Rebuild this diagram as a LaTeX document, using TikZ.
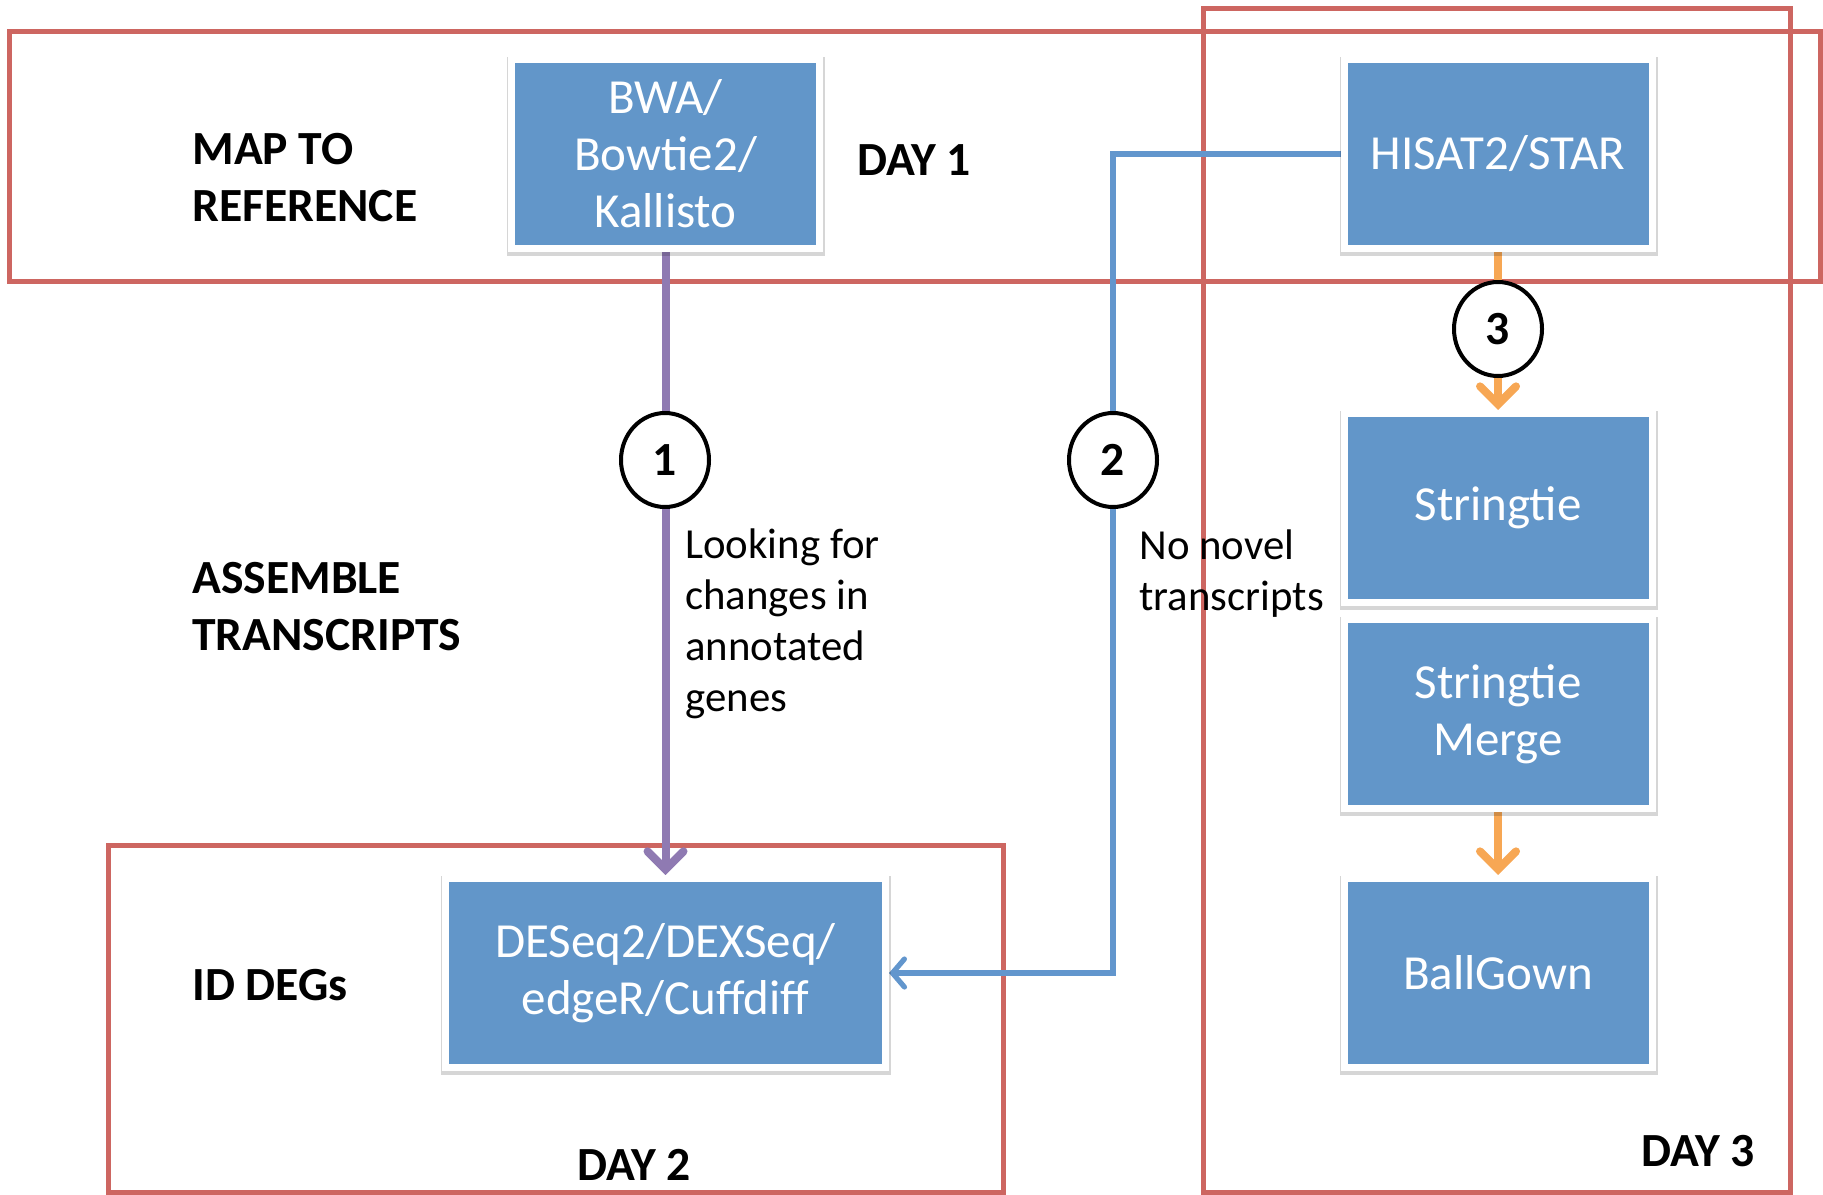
\documentclass[tikz,border=0pt]{standalone}
\usepackage{fontspec}
\setmainfont{Carlito}
\usetikzlibrary{arrows.meta,shapes.geometric,shadows,backgrounds}
\definecolor{toolblue}{RGB}{98,150,201}
\definecolor{dayred}{RGB}{205,102,97}
\definecolor{linkpurple}{RGB}{143,122,178}
\definecolor{linkblue}{RGB}{98,150,205}
\definecolor{linkorange}{RGB}{247,167,84}
\begin{document}
\begin{tikzpicture}[x=0.5pt,y=-0.5pt]
    \tikzstyle{tool}=[rectangle,fill=toolblue,draw=white,line width=3.5pt,text=white,align=center,minimum width=154pt,minimum height=94.5pt,inner sep=0pt,font=\fontsize{24.5}{28.5}\selectfont,drop shadow={shadow xshift=0.4pt,shadow yshift=-1.2pt,opacity=0.16,draw=black,line width=5pt,rounded corners=2pt}]
    \tikzstyle{daybox}=[draw=dayred,line width=2.5pt]
    \tikzstyle{rowlabel}=[anchor=west,align=left,inner sep=0pt,font=\fontsize{23.8}{28.5}\selectfont\bfseries]
    \tikzstyle{note}=[anchor=west,align=left,inner sep=0pt,font=\fontsize{21.4}{25.5}\selectfont]
    \tikzstyle{stepno}=[ellipse,draw=black,fill=white,line width=2pt,minimum width=44pt,minimum height=47pt,inner sep=0pt,font=\fontsize{23.8}{28.5}\selectfont\bfseries]
    \tikzstyle{link}=[line width=4pt,-{Straight Barb[length=9pt,width=18pt,line cap=round]}]
    \useasboundingbox (0,0) rectangle (1823,1194);
    % tools
    \node[tool] (bwa) at (665.5,154) {BWA/\\Bowtie2/\\Kallisto};
    \node[tool] (hisat) at (1498,154) {HISAT2/STAR};
    \node[tool] (stringtie) at (1498,508) {Stringtie};
    \node[tool] (merge) at (1498,714) {Stringtie\\Merge};
    \node[tool] (ballgown) at (1498,973) {BallGown};
    \node[tool,minimum width=220pt] (deseq) at (665.5,973) {DESeq2/DEXSeq/\\edgeR/Cuffdiff};
    % steps
    \node[stepno] (c1) at (665,460) {1};
    \node[stepno] (c2) at (1113,460) {2};
    \node[stepno] (c3) at (1498,329) {3};
    \begin{pgfonlayer}{background}
    % day frames
    \draw[daybox] (9,31) rectangle (1820,281);
    \draw[daybox] (1203,8) rectangle (1790,1192);
    \draw[daybox] (108,845) rectangle (1003,1192);
    % links
    \draw[link,linkpurple] (bwa.south) -- (deseq.north);
    \draw[linkblue,line width=2.6pt,-{Straight Barb[length=6pt,width=14pt,line cap=round]}] (hisat.west) -| (c2.center) |- (deseq.east);
    \draw[link,linkorange] (hisat.south) -- (stringtie.north);
    \draw[link,linkorange] (merge.south) -- (ballgown.north);
    \end{pgfonlayer}
    % row labels
    \node[rowlabel] (map) at (192,177.5) {MAP TO\\REFERENCE};
    \node[rowlabel] (assemble) at (192,606.5) {ASSEMBLE\\TRANSCRIPTS};
    \node[rowlabel] (degs) at (192,985) {ID DEGs};
    \node[rowlabel] (day1) at (857,160) {DAY 1};
    \node[rowlabel,anchor=center] (day2) at (634,1165) {DAY 2};
    \node[rowlabel,anchor=center] (day3) at (1698,1151) {DAY 3};
    \node[note] (looking) at (685,624) {Looking for\\changes in\\annotated\\genes};
    \node[note] (novel) at (1139,573.5) {No novel\\transcripts};
\end{tikzpicture}
\end{document}
